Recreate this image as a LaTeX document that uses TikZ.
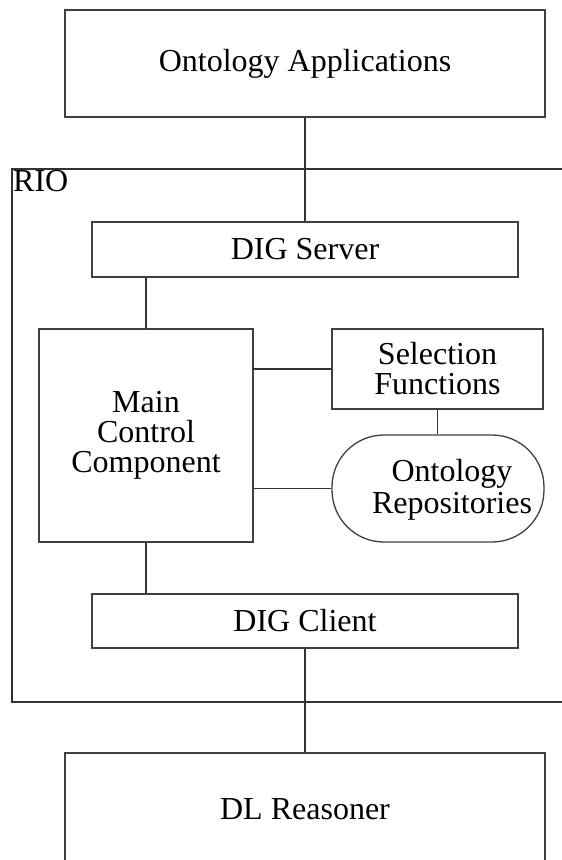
\documentclass[tikz,border=0pt]{standalone}
\usepackage{fontspec}
\setmainfont{Liberation Serif}
\begin{document}
\begin{tikzpicture}[x=1pt,y=-1pt,
  font=\fontsize{32}{30}\selectfont,
  box/.style={draw=black!75, line width=1.3pt, rectangle, inner sep=0pt, align=center},
  conn/.style={draw=black!80, line width=1.3pt}]
\useasboundingbox (0,0) rectangle (562,860);
\clip (0,0) rectangle (562,860);

% RIO frame (open at the right)
\coordinate (rioTL) at (12,169);
\coordinate (rioTR) at (564,169);
\coordinate (rioBL) at (12,702);
\coordinate (rioBR) at (564,702);
\draw[conn] (rioTR) -- (rioTL) -- (rioBL) -- (rioBR);
\node[anchor=north west, inner sep=0pt, yshift=-1pt, xshift=1pt] (rio) at (rioTL) {RIO};

\node[box, minimum width=480, minimum height=107] (apps) at (305,63.5) {Ontology Applications};
\node[box, minimum width=426, minimum height=55] (server) at (305,249.5) {DIG Server};
\node[box, minimum width=214, minimum height=213] (main) at (146,435.5) {Main\\Control\\Component};
\node[box, minimum width=211, minimum height=80] (sel) at (437.5,369) {Selection\\Functions};
\node[box, rounded corners=52pt, minimum width=212, minimum height=107,
  label={[align=center, inner sep=0pt, xshift=14pt, yshift=-1pt, font=\fontsize{32}{32}\selectfont]center:Ontology\\Repositories}] (repo) at (438,488.5) {};
\node[box, minimum width=426, minimum height=54] (client) at (305,621) {DIG Client};
\node[box, minimum width=480, minimum height=112] (dl) at (305,809) {DL Reasoner};

\draw[conn] (apps.south) -- (server.north);
\draw[conn] (main.north) -- (main.north |- server.south);
\draw[conn] (sel.west) -- (sel.west -| main.east);
\draw[conn] (repo.west) -- (repo.west -| main.east);
\draw[conn] (sel.south) -- (sel.south |- repo.north);
\draw[conn] (main.south) -- (main.south |- client.north);
\draw[conn] (client.south) -- (dl.north);
\end{tikzpicture}
\end{document}
